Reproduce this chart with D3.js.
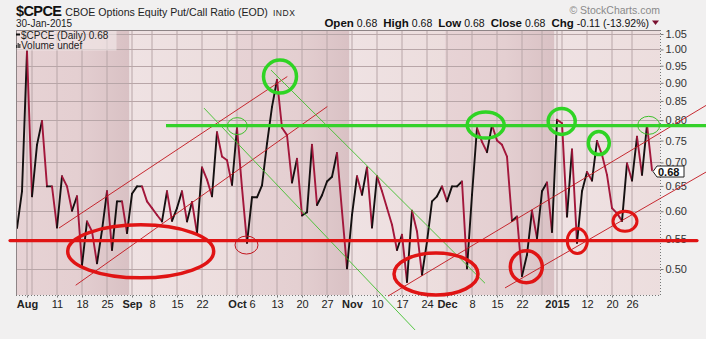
<!DOCTYPE html>
<html>
<head>
<meta charset="utf-8">
<script src="https://cdn.jsdelivr.net/npm/d3@7"></script>
<style>
  body { margin: 0; background: #f1f0f0; }
  svg { display: block; font-family: "Liberation Sans", Arial, sans-serif; }
</style>
</head>
<body>
<div id="chart"></div>
<script>
// daily closes, trading days 30-Jul-2014 .. 30-Jan-2015 (index = trading day)
const ratio = [
  0.569, 0.639, 0.994, 0.629, 0.740, 0.798, 0.649, 0.649, 0.570, 0.670,
  0.649, 0.601, 0.629, 0.506, 0.581, 0.563, 0.509, 0.565, 0.639, 0.531,
  0.619, 0.619, 0.560, 0.634, 0.649, 0.649, 0.619, 0.606, 0.593, 0.581,
  0.639, 0.582, 0.606, 0.639, 0.581, 0.618, 0.560, 0.689, 0.663, 0.629,
  0.770, 0.713, 0.705, 0.652, 0.780, 0.646, 0.543, 0.627, 0.627, 0.651,
  0.743, 0.834, 0.908, 0.781, 0.763, 0.657, 0.708, 0.592, 0.598, 0.740,
  0.612, 0.631, 0.659, 0.669, 0.721, 0.600, 0.501, 0.593, 0.670, 0.632,
  0.689, 0.570, 0.670, 0.639, 0.606, 0.575, 0.531, 0.557, 0.480, 0.601,
  0.563, 0.491, 0.545, 0.619, 0.629, 0.649, 0.619, 0.649, 0.649, 0.659,
  0.501, 0.632, 0.780, 0.747, 0.723, 0.788, 0.750, 0.740, 0.713, 0.582,
  0.590, 0.489, 0.523, 0.601, 0.551, 0.639, 0.657, 0.562, 0.801, 0.792,
  0.590, 0.729, 0.543, 0.639, 0.679, 0.661, 0.749, 0.717, 0.673, 0.606,
  0.596, 0.582, 0.698, 0.661, 0.759, 0.673, 0.788, 0.683
];

const xTickIdx    = [2, 8, 13, 18, 23, 27, 32, 37, 44, 47, 52, 57, 62, 67, 72, 77, 82, 86, 91, 96, 101, 108, 114, 119, 123];
const xTickLabels = ["Aug", "11", "18", "25", "Sep", "8", "15", "22", "Oct", "6", "13", "20", "27", "Nov", "10", "17", "24", "Dec", "8", "15", "22", "2015", "12", "20", "26"];
const boldLabels  = ["Aug", "Sep", "Oct", "Nov", "Dec", "2015"];
const gridIdx     = [2, 3, 8, 13, 18, 23, 27, 32, 37, 42, 44, 47, 52, 57, 62, 67, 72, 77, 82, 86, 91, 96, 101, 105, 108, 109, 114, 119, 123];
const monthEdges  = [-1, 22.5, 43.5, 66.5, 85.5, 107.5, 130];
const yTicks      = [0.50, 0.55, 0.60, 0.65, 0.70, 0.75, 0.80, 0.85, 0.90, 0.95, 1.00, 1.05];

// hand drawn annotations, in (trading day, ratio)
const greenLevel = [29.8, 137.8, 0.786];
const redLevel   = [-1.4, 136, 0.547];
const redChannels   = [[8.4, 0.569, 54.06, 0.918], [11.74, 0.475, 62.06, 0.835], [74.2, 0.459, 137.8, 0.838], [97.6, 0.471, 137.8, 0.679]];
const greenChannels = [[37.4, 0.831, 79.6, 0.4125], [50.8, 0.937, 93.6, 0.478]];
// [day, ratio, rx, ry, stroke width]
const redRings = [
  [24.74, 0.5287, 73, 26.5, 3.5], [45.9, 0.5393, 11.5, 9, 1], [83.8, 0.4922, 42, 21, 3.5],
  [101.86, 0.5035, 16, 16, 3.5], [112.06, 0.5462, 10, 12.5, 3], [121.6, 0.5812, 12, 10, 3]
];
const greenRings = [
  [44.06, 0.785, 10, 8.5, 1], [52.6, 0.918, 16.5, 16.5, 3.5], [93.74, 0.7875, 18.5, 13, 3.5],
  [108.94, 0.7968, 13.5, 13, 3.5], [116.36, 0.744, 10.5, 11.5, 3.5], [126.34, 0.787, 11, 9, 1]
];

const W = 706, H = 339;
const plot = {left: 16, right: 660, top: 30, bottom: 295};

const svg = d3.select("#chart").append("svg")
    .attr("width", W)
    .attr("height", H);

const x = d3.scaleLinear().domain([0, 127]).range([17, 652]);
const y = d3.scaleLog().domain([0.5, 1.05]).range([269, 34]);

const defs = svg.append("defs");
defs.append("clipPath").attr("id", "clip")
    .append("rect")
    .attr("x", plot.left).attr("y", plot.top)
    .attr("width", plot.right - plot.left).attr("height", plot.bottom - plot.top);

const dark = defs.append("linearGradient").attr("id", "darkMonth");
dark.append("stop").attr("offset", "0%").attr("stop-color", "#e7d3d5");
dark.append("stop").attr("offset", "55%").attr("stop-color", "#e4cfd1");
dark.append("stop").attr("offset", "100%").attr("stop-color", "#d9c1c4");
const light = defs.append("linearGradient").attr("id", "lightMonth");
light.append("stop").attr("offset", "0%").attr("stop-color", "#efe2e3");
light.append("stop").attr("offset", "100%").attr("stop-color", "#ecdddd");

const body = svg.append("g").attr("clip-path", "url(#clip)");

// month shading
body.selectAll("rect.month")
    .data(d3.range(monthEdges.length - 1))
    .enter().append("rect")
    .attr("class", "month")
    .attr("x", d => x(monthEdges[d]))
    .attr("y", plot.top)
    .attr("width", d => x(monthEdges[d + 1]) - x(monthEdges[d]))
    .attr("height", plot.bottom - plot.top)
    .attr("fill", d => d % 2 === 0 ? "url(#darkMonth)" : "url(#lightMonth)");

// grid
body.selectAll("line.vgrid")
    .data(gridIdx)
    .enter().append("line")
    .attr("x1", d => x(d)).attr("x2", d => x(d))
    .attr("y1", plot.top).attr("y2", plot.bottom)
    .attr("stroke", "#b8a6a8")
    .attr("stroke-width", 1);

body.selectAll("line.hgrid")
    .data(yTicks)
    .enter().append("line")
    .attr("x1", plot.left).attr("x2", plot.right)
    .attr("y1", d => Math.round(y(d)) + 0.5).attr("y2", d => Math.round(y(d)) + 0.5)
    .attr("stroke", "#b8a6a8")
    .attr("stroke-width", 1);

// legend backdrop
svg.append("rect")
    .attr("x", plot.left + 0.5).attr("y", plot.top + 0.5)
    .attr("width", 100).attr("height", 20)
    .attr("fill", "#f6eeee").attr("opacity", 0.55);

// price line: black up-moves, red down-moves
body.selectAll("line.seg")
    .data(d3.range(ratio.length - 1))
    .enter().append("line")
    .attr("x1", i => x(i)).attr("y1", i => y(ratio[i]))
    .attr("x2", i => x(i + 1)).attr("y2", i => y(ratio[i + 1]))
    .attr("stroke", i => ratio[i + 1] >= ratio[i] ? "#141010" : "#a3173b")
    .attr("stroke-width", 1.9)
    .attr("stroke-linecap", "round");

// plot frame
svg.append("line")
    .attr("x1", plot.left + 0.5).attr("x2", plot.left + 0.5)
    .attr("y1", plot.top).attr("y2", plot.bottom)
    .attr("stroke", "#8e8486");
svg.append("line")
    .attr("x1", plot.left).attr("x2", plot.right)
    .attr("y1", plot.top + 0.5).attr("y2", plot.top + 0.5)
    .attr("stroke", "#8e8486");

// axes
const xAxis = svg.append("g")
    .attr("transform", `translate(0,${plot.bottom + 0.5})`)
    .call(d3.axisBottom(x)
        .tickValues(xTickIdx)
        .tickFormat((d, i) => xTickLabels[i])
        .tickSize(2)
        .tickPadding(3));
xAxis.select(".domain")
    .attr("d", `M${plot.left},0H${plot.right}`)
    .attr("stroke", "#777")
    .attr("stroke-dasharray", "1,2");
xAxis.selectAll(".tick line").attr("stroke", "#777");
xAxis.selectAll("text")
    .attr("fill", "#222")
    .style("font-size", "11px")
    .style("font-weight", d => boldLabels.includes(xTickLabels[xTickIdx.indexOf(d)]) ? "bold" : "normal");

const yAxis = svg.append("g")
    .attr("transform", `translate(${plot.right + 0.5},0)`)
    .call(d3.axisRight(y)
        .tickValues(yTicks)
        .tickFormat(d3.format(".2f"))
        .tickSize(3)
        .tickPadding(2));
yAxis.select(".domain")
    .attr("d", `M0,${plot.top}V${plot.bottom}`)
    .attr("stroke", "#777")
    .attr("stroke-dasharray", "1,2");
yAxis.selectAll(".tick line").attr("stroke", "#777");
yAxis.selectAll("text")
    .attr("fill", "#333")
    .style("font-size", "11px");

// annotations
const notes = svg.append("g");

notes.selectAll("line.rch")
    .data(redChannels)
    .enter().append("line")
    .attr("x1", d => x(d[0])).attr("y1", d => y(d[1]))
    .attr("x2", d => x(d[2])).attr("y2", d => y(d[3]))
    .attr("stroke", "#c2141c")
    .attr("stroke-width", 0.9);

notes.selectAll("line.gch")
    .data(greenChannels)
    .enter().append("line")
    .attr("x1", d => x(d[0])).attr("y1", d => y(d[1]))
    .attr("x2", d => x(d[2])).attr("y2", d => y(d[3]))
    .attr("stroke", "#3fbf2c")
    .attr("stroke-width", 0.9);

notes.append("line")
    .attr("x1", x(greenLevel[0])).attr("x2", x(greenLevel[1]))
    .attr("y1", y(greenLevel[2])).attr("y2", y(greenLevel[2]))
    .attr("stroke", "#34d12a")
    .attr("stroke-width", 3.2);

notes.append("line")
    .attr("x1", x(redLevel[0])).attr("x2", x(redLevel[1]))
    .attr("y1", y(redLevel[2])).attr("y2", y(redLevel[2]))
    .attr("stroke", "#e01414")
    .attr("stroke-width", 3.2)
    .attr("stroke-linecap", "round");

notes.selectAll("ellipse.red")
    .data(redRings)
    .enter().append("ellipse")
    .attr("cx", d => x(d[0])).attr("cy", d => y(d[1]))
    .attr("rx", d => d[2]).attr("ry", d => d[3])
    .attr("fill", "none")
    .attr("stroke", d => d[4] > 2 ? "#e01414" : "#c2141c")
    .attr("stroke-width", d => d[4]);

notes.selectAll("ellipse.green")
    .data(greenRings)
    .enter().append("ellipse")
    .attr("cx", d => x(d[0])).attr("cy", d => y(d[1]))
    .attr("rx", d => d[2]).attr("ry", d => d[3])
    .attr("fill", "none")
    .attr("stroke", d => d[4] > 2 ? "#2fd424" : "#3fbf2c")
    .attr("stroke-width", d => d[4]);

// last value tag
const last = ratio[ratio.length - 1];
const ty = Math.round(y(last)) + 1;
svg.append("path")
    .attr("d", `M${plot.right - 7},${ty + 0.5}L${plot.right - 3},${ty - 5}H${plot.right + 24}V${ty + 6}H${plot.right - 3}Z`)
    .attr("fill", "#fff")
    .attr("stroke", "#222")
    .attr("stroke-width", 1);
svg.append("text")
    .attr("x", plot.right - 2).attr("y", ty + 4.5)
    .attr("font-size", "11px")
    .attr("font-weight", "bold")
    .attr("fill", "#111")
    .text(d3.format(".2f")(last));

// legend
svg.append("line")
    .attr("x1", 16).attr("x2", 20)
    .attr("y1", 34.5).attr("y2", 34.5)
    .attr("stroke", "#111").attr("stroke-width", 2);
svg.append("text")
    .attr("x", 21).attr("y", 38.5)
    .attr("font-size", "10px").attr("fill", "#222")
    .text("$CPCE (Daily) " + d3.format(".2f")(last));
svg.selectAll("rect.vol")
    .data([3, 5, 4])
    .enter().append("rect")
    .attr("x", (d, i) => 16 + i * 1.6).attr("y", d => 48 - d)
    .attr("width", 1.2).attr("height", d => d)
    .attr("fill", "#333");
svg.append("text")
    .attr("x", 21).attr("y", 48.5)
    .attr("font-size", "10px").attr("fill", "#222")
    .text("Volume undef");

// header
const head = svg.append("text").attr("x", 16).attr("y", 16);
head.append("tspan")
    .attr("font-size", "14.5px").attr("font-weight", "bold").attr("letter-spacing", "-0.6px")
    .attr("fill", "#111")
    .text("$CPCE");
head.append("tspan")
    .attr("dx", 4)
    .attr("font-size", "10.6px").attr("fill", "#222")
    .text("CBOE Options Equity Put/Call Ratio (EOD)");
head.append("tspan")
    .attr("dx", 5)
    .attr("font-size", "8.5px").attr("letter-spacing", "0.6px").attr("fill", "#222")
    .text("INDX");

svg.append("text")
    .attr("x", 16).attr("y", 27)
    .attr("font-size", "10px").attr("fill", "#222")
    .text("30-Jan-2015");

const quote = [["Open", "0.68"], ["High", "0.68"], ["Low", "0.68"], ["Close", "0.68"], ["Chg", "-0.11 (-13.92%)"]];
const qt = svg.append("text")
    .attr("x", 649).attr("y", 26.5)
    .attr("text-anchor", "end")
    .attr("fill", "#111");
quote.forEach((q, i) => {
    qt.append("tspan")
        .attr("dx", i === 0 ? 0 : 6)
        .attr("font-size", "11.5px").attr("font-weight", "bold")
        .text(q[0]);
    qt.append("tspan")
        .attr("dx", 3)
        .attr("font-size", "10.5px")
        .text(q[1]);
});
svg.append("path")
    .attr("d", "M652,20.5H659L655.5,25Z")
    .attr("fill", "#7a1030");

svg.append("text")
    .attr("x", 660).attr("y", 14)
    .attr("text-anchor", "end")
    .attr("font-size", "10.5px").attr("fill", "#8a8a8a")
    .text("\u00a9 StockCharts.com");
</script>
</body>
</html>
